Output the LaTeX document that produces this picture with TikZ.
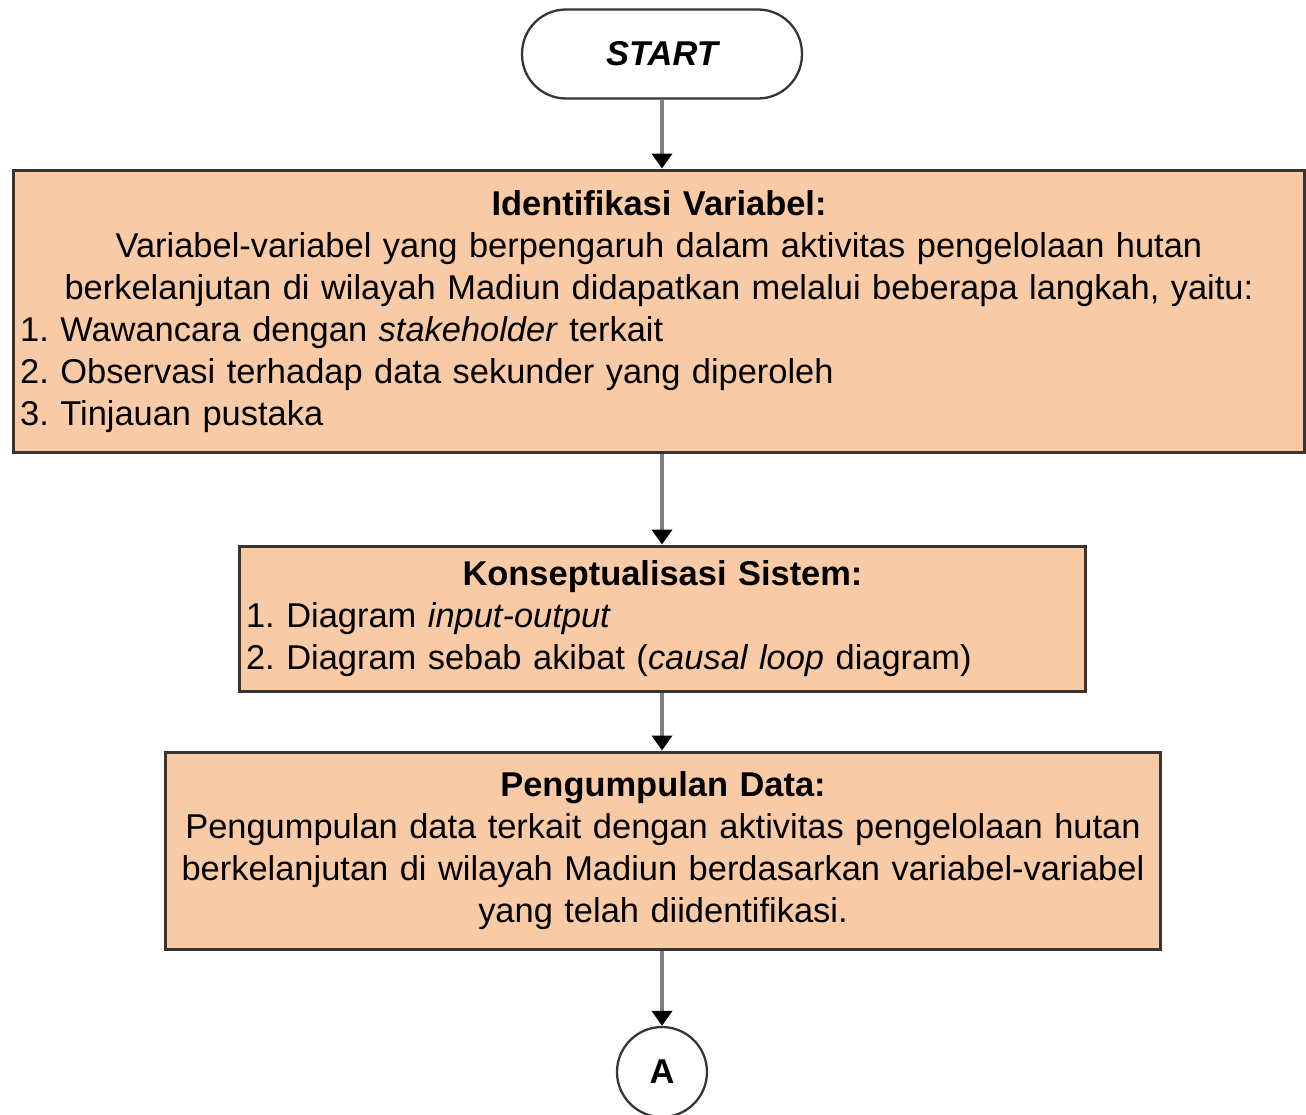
\documentclass[tikz,border=0pt]{standalone}
\usepackage{fontspec}
\setmainfont{Liberation Sans}
\usetikzlibrary{arrows.meta}
\definecolor{flowPeach}{HTML}{F8CBA6}
\definecolor{flowEdge}{HTML}{3A3330}
\definecolor{flowLine}{HTML}{808080}
\newcommand{\flowfont}{\fontsize{19.6}{23.9}\selectfont\frenchspacing}
\tikzset{
  flow box/.style={draw=flowEdge, fill=flowPeach, line width=1.7pt, inner xsep=0.14cm, inner ysep=0pt, align=left, font=\flowfont},
  flow term/.style={draw=flowEdge, line width=1.3pt, rounded corners=0.88cm, minimum width=5.6cm, minimum height=1.78cm, font=\flowfont\bfseries\itshape},
  flow conn/.style={circle, draw=flowEdge, line width=1.3pt, minimum size=1.8cm, inner sep=0pt, font=\flowfont\bfseries},
  flow arrow/.style={draw=flowLine, line width=2.3pt, -{Triangle[length=0.3cm, width=0.4cm, color=black]}},
}

\begin{document}
\begin{tikzpicture}[x=0.02cm, y=-0.02cm]
  \useasboundingbox (0,0) rectangle (1306,1115);

  % Start terminator
  \node[flow term] (start) at (662,54) {START};

  % Step 1: identify variables
  \node[flow box, text width=25.56cm, minimum height=5.66cm] (ident) at (659,311.5)
    {{\centering\bfseries Identifikasi Variabel:\\
      \mdseries Variabel-variabel yang berpengaruh dalam aktivitas pengelolaan hutan\\
      berkelanjutan di wilayah Madiun didapatkan melalui beberapa langkah, yaitu:\par}
     1. Wawancara dengan \textit{stakeholder} terkait\\
     2. Observasi terhadap data sekunder yang diperoleh\\
     3. Tinjauan pustaka};

  % Step 2: system conceptualisation
  \node[flow box, text width=16.66cm, minimum height=2.92cm] (konsep) at (662.5,619)
    {{\centering\bfseries Konseptualisasi Sistem:\par}
     1. Diagram \textit{input-output}\\
     2. Diagram sebab akibat (\textit{causal loop} diagram)};

  % Step 3: data collection
  \node[flow box, text width=19.64cm, minimum height=3.96cm] (data) at (663,851)
    {{\centering\bfseries Pengumpulan Data:\\
      \mdseries Pengumpulan data terkait dengan aktivitas pengelolaan hutan\\
      berkelanjutan di wilayah Madiun berdasarkan variabel-variabel\\
      yang telah diidentifikasi.\par}};

  % Off-page connector
  \node[flow conn] (conA) at (662,1072) {A};

  % Arrows down the flow
  \draw[flow arrow] (start.south) -- (start.south |- ident.north);
  \draw[flow arrow] (ident.south -| start.south) -- (start.south |- konsep.north);
  \draw[flow arrow] (konsep.south -| start.south) -- (start.south |- data.north);
  \draw[flow arrow] (data.south -| start.south) -- (conA.north);
\end{tikzpicture}
\end{document}
